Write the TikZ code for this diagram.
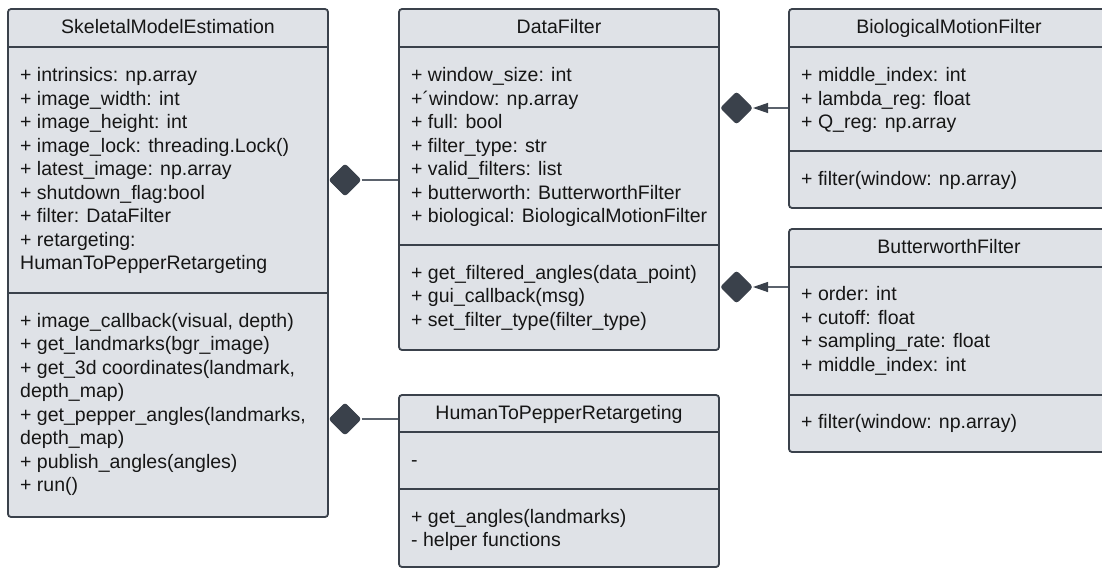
\documentclass[tikz,border=0pt]{standalone}
\usepackage{fontspec}
\setmainfont{Liberation Sans}
\usetikzlibrary{shapes.geometric,arrows.meta}

\definecolor{boxfill}{HTML}{DFE2E7}
\definecolor{boxline}{HTML}{3A414B}
\definecolor{linkline}{HTML}{5B626C}
\definecolor{ink}{HTML}{161616}

\newcommand\umlfont{\fontsize{19.5}{23.5}\selectfont}

\tikzset{
  classbox/.style={draw=boxline, line width=1.8pt, fill=boxfill,
    rounded corners=3pt, inner sep=0pt},
  divider/.style={draw=boxline, line width=1.8pt},
  title/.style={font=\umlfont, text=ink, anchor=base, inner sep=0pt},
  rowtext/.style={font=\umlfont, text=ink, anchor=base west, inner sep=0pt},
  comp/.style={diamond, fill=boxline, draw=boxline, line width=1pt,
    rounded corners=2.5pt, minimum width=32pt, minimum height=32pt, inner sep=0pt},
  link/.style={draw=linkline, line width=1.3pt},
  headtip/.style={-{Triangle[length=15pt,width=10pt,color=boxline]}},
}

\begin{document}
\begin{tikzpicture}[x=1pt,y=-1pt]
\useasboundingbox (0,0) rectangle (1102,568);
\clip (0,0) rectangle (1102,568);

% ---------- class frames ----------
\node[classbox, minimum width=320pt, minimum height=508pt] (sme) at (168,263) {};
\node[classbox, minimum width=320pt, minimum height=341pt] (df)  at (559,179.5) {};
\node[classbox, minimum width=323pt, minimum height=199pt] (bmf) at (950.5,108.5) {};
\node[classbox, minimum width=323pt, minimum height=223pt] (bwf) at (950.5,340.5) {};
\node[classbox, minimum width=320pt, minimum height=172pt] (htp) at (559,481) {};

% compartment separators
\draw[divider] (8,47) -- (328,47);
\draw[divider] (8,293) -- (328,293);
\draw[divider] (399,47) -- (719,47);
\draw[divider] (399,245) -- (719,245);
\draw[divider] (789,47) -- (1112,47);
\draw[divider] (789,151) -- (1112,151);
\draw[divider] (789,267) -- (1112,267);
\draw[divider] (789,395) -- (1112,395);
\draw[divider] (399,432) -- (719,432);
\draw[divider] (399,489) -- (719,489);

% ---------- class names ----------
\node[title] (smeT) at (168,33) {SkeletalModelEstimation};
\node[title] (dfT)  at (559,33) {DataFilter};
\node[title] (bmfT) at (949,33) {BiologicalMotionFilter};
\node[title] (bwfT) at (949,253) {ButterworthFilter};
\node[title] (htpT) at (559,419) {HumanToPepperRetargeting};

% ---------- SkeletalModelEstimation ----------
\foreach \t [count=\i] in {
  {+ intrinsics: np.array},
  {+ image\_width: int},
  {+ image\_height: int},
  {+ image\_lock: threading.Lock()},
  {+ latest\_image: np.array},
  {+ shutdown\_flag:bool},
  {+ filter: DataFilter},
  {+ retargeting:},
  {HumanToPepperRetargeting}}
  \node[rowtext] (smeA\i) at (20,{81.5+23.5*(\i-1)}) {\t};
\foreach \t [count=\i] in {
  {+ image\_callback(visual, depth)},
  {+ get\_landmarks(bgr\_image)},
  {+ get\_3d coordinates(landmark,},
  {depth\_map)},
  {+ get\_pepper\_angles(landmarks,},
  {depth\_map)},
  {+ publish\_angles(angles)},
  {+ run()}}
  \node[rowtext] (smeM\i) at (20,{327+23.5*(\i-1)}) {\t};

% ---------- DataFilter ----------
\foreach \t [count=\i] in {
  {+ window\_size: int},
  {+´window: np.array},
  {+ full: bool},
  {+ filter\_type: str},
  {+ valid\_filters: list},
  {+ butterworth: ButterworthFilter},
  {+ biological: BiologicalMotionFilter}}
  \node[rowtext] (dfA\i) at (411,{81.5+23.5*(\i-1)}) {\t};
\foreach \t [count=\i] in {
  {+ get\_filtered\_angles(data\_point)},
  {+ gui\_callback(msg)},
  {+ set\_filter\_type(filter\_type)}}
  \node[rowtext] (dfM\i) at (411,{279+23.5*(\i-1)}) {\t};

% ---------- BiologicalMotionFilter ----------
\foreach \t [count=\i] in {
  {+ middle\_index: int},
  {+ lambda\_reg: float},
  {+ Q\_reg: np.array}}
  \node[rowtext] (bmfA\i) at (801,{81.5+23.5*(\i-1)}) {\t};
\node[rowtext] (bmfM1) at (801,185) {+ filter(window: np.array)};

% ---------- ButterworthFilter ----------
\foreach \t [count=\i] in {
  {+ order: int},
  {+ cutoff: float},
  {+ sampling\_rate: float},
  {+ middle\_index: int}}
  \node[rowtext] (bwfA\i) at (801,{300.5+23.5*(\i-1)}) {\t};
\node[rowtext] (bwfM1) at (801,428) {+ filter(window: np.array)};

% ---------- HumanToPepperRetargeting ----------
\node[rowtext] (htpA1) at (411,466) {-};
\node[rowtext] (htpM1) at (411,523) {+ get\_angles(landmarks)};
\node[rowtext] (htpM2) at (411,546.5) {- helper functions};

% ---------- composition links ----------
\node[comp] (d1) at (345,180) {};
\node[comp] (d2) at (345,419) {};
\node[comp] (d3) at (736.5,108) {};
\node[comp] (d4) at (736.5,287) {};

\draw[link] (d1.east) -- (d1 -| df.west);
\draw[link] (d2.east) -- (d2 -| htp.west);
\draw[link, headtip] (d3 -| bmf.west) -- (d3.east);
\draw[link, headtip] (d4 -| bwf.west) -- (d4.east);
\end{tikzpicture}
\end{document}
